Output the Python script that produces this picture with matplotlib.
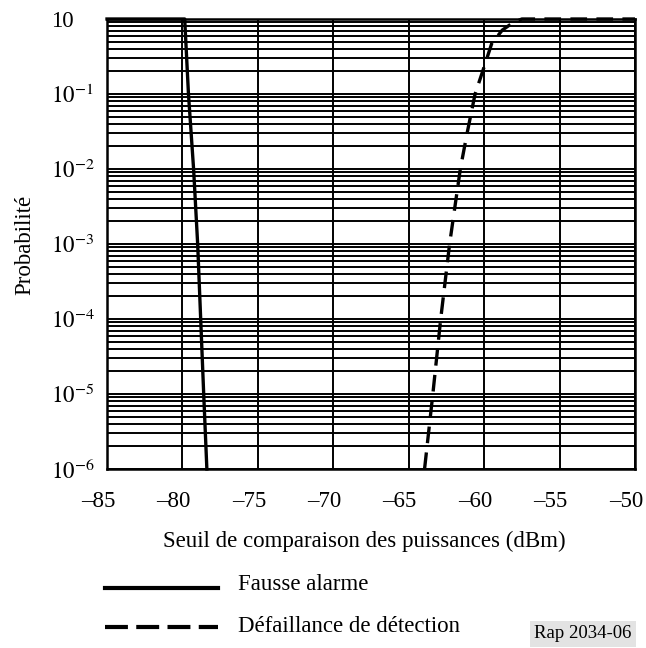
import matplotlib
matplotlib.use("Agg")
import matplotlib.pyplot as plt
import matplotlib.transforms as mtransforms
from matplotlib.lines import Line2D
from matplotlib.ticker import LogLocator, NullFormatter

plt.rcParams["font.family"] = ["Liberation Serif", "DejaVu Serif"]
plt.rcParams["mathtext.fontset"] = "stix"

# false-alarm probability vs threshold (dBm)
fa_x = [-85, -79.85, -79.6, -79.26, -78.99, -78.79, -78.59, -78.38]
fa_p = [1.0, 1.0, 1e-1, 1e-2, 1e-3, 1e-4, 1e-5, 1e-6]

# missed-detection probability vs threshold (dBm)
md_x = [-63.95, -63.4, -62.88, -62.29, -61.58, -61.13, -60.6, -60.1,
        -59.5, -58.8, -58.1, -57.5, -50]
md_p = [1e-6, 1e-5, 1e-4, 1e-3, 1e-2, 3e-2, 1e-1, 0.2,
        0.47, 0.71, 0.89, 1.0, 1.0]

x_ticks = [-85, -80, -75, -70, -65, -60, -55, -50]
x_labels = ["–85", "–80", "–75", "–70", "–65", "–60", "–55", "–50"]
y_ticks = [1e-6, 1e-5, 1e-4, 1e-3, 1e-2, 1e-1, 1.0]
y_labels = ["$10^{-6}$", "$10^{-5}$", "$10^{-4}$", "$10^{-3}$",
            "$10^{-2}$", "$10^{-1}$", "10"]

FS = 16.5
W, H = 646, 648

fig = plt.figure(figsize=(6.46, 6.48), dpi=100)
ax = fig.add_axes([107 / W, 1 - 469 / H, 528 / W, 450 / H])

ax.set_yscale("log")
ax.set_xlim(-85, -50)
ax.set_ylim(1e-6, 1.0)

ax.set_xticks(x_ticks)
ax.set_xticklabels(x_labels, fontsize=FS)
ax.set_yticks(y_ticks)
ax.set_yticklabels(y_labels, fontsize=FS, ha="left")
ax.yaxis.set_minor_locator(LogLocator(base=10, subs=range(2, 10)))
ax.yaxis.set_minor_formatter(NullFormatter())
ax.tick_params(axis="both", which="both", length=0)
ax.tick_params(axis="y", pad=40)
ax.tick_params(axis="x", pad=16)

# x labels sit a little left of their grid lines
shift = mtransforms.ScaledTranslation(-9 / 100, 0, fig.dpi_scale_trans)
for lab in ax.get_xticklabels():
    lab.set_transform(lab.get_transform() + shift)

ax.grid(True, which="both", axis="y", color="black", linewidth=1.4)
ax.grid(True, which="major", axis="x", color="black", linewidth=1.4)
for s in ax.spines.values():
    s.set_linewidth(1.8)

ax.plot(fa_x, fa_p, color="black", linewidth=2.4, clip_on=False, zorder=5)
ax.plot(md_x, md_p, color="black", linewidth=2.4, linestyle=(0, (5, 2.8)),
        clip_on=False, zorder=5)

fig.text(25 / W, 1 - 245 / H, "Probabilité", rotation=90, fontsize=FS,
         ha="center", va="center")
fig.text(364 / W, 1 - 541 / H, "Seuil de comparaison des puissances (dBm)",
         fontsize=FS, ha="center", va="center")

# legend drawn by hand below the axis title
fig.add_artist(Line2D([105 / W, 218 / W], [1 - 588 / H, 1 - 588 / H],
                      color="black", linewidth=3.0))
fig.add_artist(Line2D([105 / W, 218 / W], [1 - 627 / H, 1 - 627 / H],
                      color="black", linewidth=3.0, linestyle=(0, (5.5, 2.0))))
fig.text(238 / W, 1 - 584 / H, "Fausse alarme", fontsize=FS,
         ha="left", va="center")
fig.text(238 / W, 1 - 627 / H, "Défaillance de détection", fontsize=FS,
         ha="left", va="center")

fig.text(583 / W, 1 - 634 / H, "Rap 2034-06", fontsize=13.5,
         ha="center", va="center",
         bbox=dict(facecolor="#e3e3e3", edgecolor="none", pad=3))

fig.savefig("out.png", dpi=100)
